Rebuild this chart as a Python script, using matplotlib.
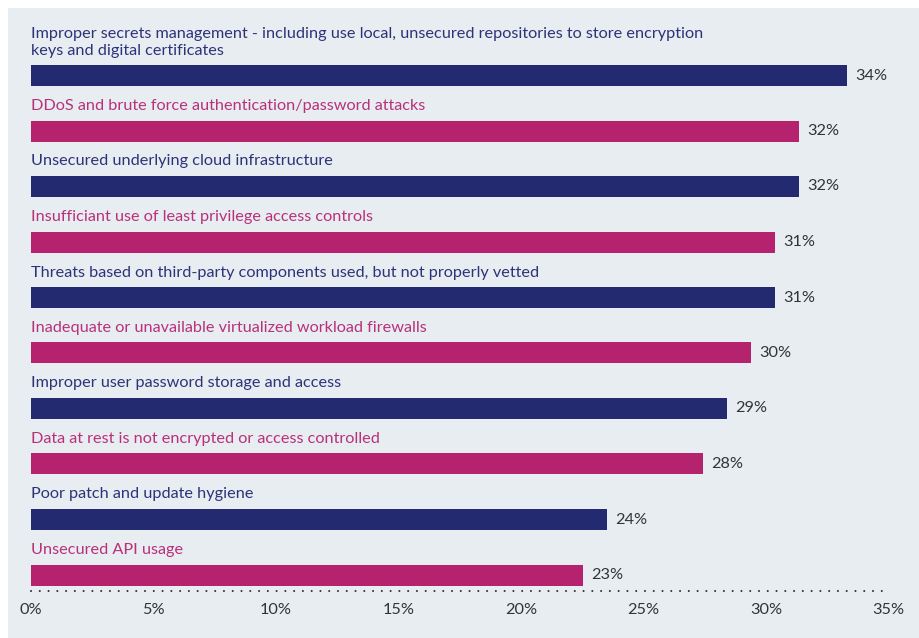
import matplotlib.pyplot as plt
from matplotlib.patches import Rectangle

categories = [
    "Improper secrets management - including use local, unsecured repositories to store encryption\nkeys and digital certificates",
    "DDoS and brute force authentication/password attacks",
    "Unsecured underlying cloud infrastructure",
    "Insufficiant use of least privilege access controls",
    "Threats based on third-party components used, but not properly vetted",
    "Inadequate or unavailable virtualized workload firewalls",
    "Improper user password storage and access",
    "Data at rest is not encrypted or access controlled",
    "Poor patch and update hygiene",
    "Unsecured API usage",
]
values = [34, 32, 32, 31, 31, 30, 29, 28, 24, 23]
tick_values = [0, 5, 10, 15, 20, 25, 30, 35]

navy = "#232A70"
magenta = "#B5226E"
navy_text = "#2D3378"
magenta_text = "#B8317A"
bg = "#E8EDF2"
grey = "#333333"

plt.rcParams['font.family'] = ['Lato', 'DejaVu Sans']

W, H = 919, 638
fig = plt.figure(figsize=(W / 100, H / 100), dpi=100)
fig.patches.append(Rectangle((8 / W, 0), 1, 1 - 8 / H, transform=fig.transFigure,
                             facecolor=bg, edgecolor='none', zorder=-10))

# axes in pixel terms: bars start at x=31, 24 px per percent; bottom dotted line at y=591
x0, x1 = 31, 31 + 24 * 36
y_top, y_bot = 10, 591
ax = fig.add_axes([x0 / W, 1 - y_bot / H, (x1 - x0) / W, (y_bot - y_top) / H])
ax.patch.set_alpha(0)

row0, pitch = 75.5, 55.5
ax.set_xlim(0, 36)
ax.set_ylim((y_bot - row0) / pitch, (y_top - row0) / pitch)

ypos = list(range(len(values)))
colors = [navy if i % 2 == 0 else magenta for i in ypos]
tcolors = [navy_text if i % 2 == 0 else magenta_text for i in ypos]
ax.barh(ypos, values, height=21 / pitch, color=colors, zorder=2)

for i, (c, v) in enumerate(zip(categories, values)):
    ax.text(0, i - 21 / pitch, c, color=tcolors[i], fontsize=11.7, va='baseline',
            ha='left', linespacing=1.25)
    ax.text(v + 8 / 24, i, f"{v}%", color=grey, fontsize=11.7, va='center', ha='left')

for s in ['top', 'right', 'left']:
    ax.spines[s].set_visible(False)
ax.spines['bottom'].set_linestyle((0, (0.01, 4.2)))
ax.spines['bottom'].set_capstyle('round')
ax.spines['bottom'].set_linewidth(1.5)
ax.spines['bottom'].set_color(grey)
ax.spines['bottom'].set_bounds(0, 859 / 24)
ax.set_yticks([])
ax.set_xticks([])

# tick labels sit on a slightly wider scale than the bars (24.5 px per percent)
sec = ax.secondary_xaxis('bottom', functions=(lambda x: x * 24 / 24.5, lambda t: t * 24.5 / 24))
sec.set_xticks(tick_values)
sec.set_xticklabels([f"{t}%" for t in tick_values], fontsize=11.7, color=grey)
sec.tick_params(length=0, pad=9)
sec.spines['bottom'].set_visible(False)

fig.savefig("out.png", dpi=100)
